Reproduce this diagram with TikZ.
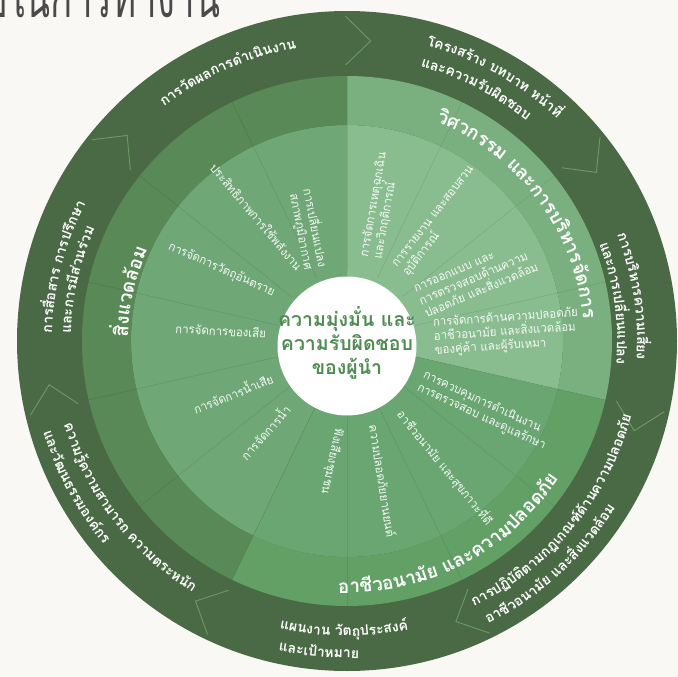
\documentclass[tikz,border=0pt]{standalone}
\usepackage{fontspec}
\setmainfont[Script=Thai]{Loma}
\newfontfamily\lomai[Script=Thai,FakeStretch=0.95]{Loma}
\definecolor{bgc}{HTML}{F9F8F5}
\definecolor{darkring}{HTML}{4A6A45}
\definecolor{envmid}{HTML}{598956}
\definecolor{envin}{HTML}{6FA777}
\definecolor{ohsmid}{HTML}{63A066}
\definecolor{ohsin}{HTML}{6AA672}
\definecolor{engmid}{HTML}{7AB080}
\definecolor{engin}{HTML}{89BC8F}
\definecolor{chev}{HTML}{6B9A66}
\definecolor{centxt}{HTML}{4F8C52}
\definecolor{titlec}{HTML}{4A4A4A}
\newcommand\otf{\bfseries\fontsize{14}{16}\selectfont}
\newcommand\mtf{\bfseries\fontsize{18.8}{22}\selectfont}
\newcommand\itf{\lomai\fontsize{12}{14}\selectfont}
\newcommand\ctf{\bfseries\fontsize{19.5}{24}\selectfont}
\tikzset{
  arcnode/.style={anchor=base, inner sep=0pt, outer sep=0pt, text=white},
  ringtxt/.style={font=\itf, text=white, text opacity=0.93, inner sep=0pt, outer sep=0pt},
  divline/.style={black, opacity=0.09, line width=0.6pt},
  chevron/.style={draw=chev, line width=0.9pt},
}
\newcounter{arcc}
\newdimen\arcaccd
\newdimen\arcwd
% measure chunks (outside the picture, where fonts work normally)
% #1 name, #2 direction (1 = clockwise, tops outward; -1 = counterclockwise, tops inward)
% #3 baseline radius (pt), #4 start angle, #5 font, #6 chunks
\newcommand\arcprep[6]{%
  \global\arcaccd=0pt\relax
  \gdef\arclist{}%
  \foreach \ch in {#6}{%
    \setbox0=\hbox{#5\ch}%
    \global\arcwd=\wd0\relax
    \pgfmathsetmacro\arcang{#4-(#2)*(\arcaccd+0.5*\arcwd)/(#3)*180/pi}%
    \ifx\arclist\empty\xdef\arclist{\arcang/\ch}\else\xdef\arclist{\arclist,\arcang/\ch}\fi
    \global\advance\arcaccd by \arcwd\relax
  }%
  \expandafter\global\expandafter\let\csname arcl@#1\endcsname\arclist
}
% place the measured chunks: #1 name, #2 direction, #3 radius, #4 font
\newcommand\arcplace[4]{%
  \expandafter\let\expandafter\arccur\csname arcl@#1\endcsname
  \foreach \aa/\cc in \arccur {%
    \pgfmathsetmacro\arcrot{\aa-(#2)*90}%
    \stepcounter{arcc}%
    \node[arcnode, font=#4, rotate=\arcrot] (arc\thearcc) at (\aa:#3pt) {\cc};
  }%
}
\newcommand\ringwedge[5]{%
  \fill[#5] (#1:#4pt) arc[start angle=#1, end angle=#2, radius=#4pt]
    -- (#2:#3pt) arc[start angle=#2, end angle=#1, radius=#3pt] -- cycle;}

\begin{document}
\arcprep{oa}{1}{297}{128}{\otf}{การ,วัด,ผล,การ,ดำ,เนิน,งาน}%
\arcprep{ob1}{1}{306}{75}{\otf}{โครง,สร้าง,\ บท,บาท,\ หน้า,ที่}%
\arcprep{ob2}{1}{284}{75}{\otf}{และ,ความ,รับ,ผิด,ชอบ}%
\arcprep{oc1}{1}{290}{21.5}{\otf}{การ,บริ,หาร,ความ,เสี่ยง}%
\arcprep{oc2}{1}{270}{21}{\otf}{และ,การ,เปลี่ยน,แปลง}%
\arcprep{od1}{-1}{294}{-64.4}{\otf}{การ,ปฏิ,บัติ,ตาม,กฎ,เกณฑ์,ด้าน,ความ,ปลอด,ภัย}%
\arcprep{od2}{-1}{316}{-63.5}{\otf}{อา,ชีว,อนา,มัย,\ และ,สิ่ง,แวด,ล้อม}%
\arcprep{oe1}{-1}{295}{-103.2}{\otf}{แผน,งาน,\ วัตถุ,ประ,สงค์}%
\arcprep{oe2}{-1}{317}{-102.5}{\otf}{และ,เป้า,หมาย}%
\arcprep{of1}{-1}{295}{196.5}{\otf}{ความ,รู้,ความ,สา,มารถ,\ ความ,ตระ,หนัก}%
\arcprep{of2}{-1}{317}{196.7}{\otf}{และ,วัฒ,น,ธรรม,องค์,กร}%
\arcprep{og1}{1}{295}{178.5}{\otf}{การ,สื่อ,สาร,\ การ,ปรึก,ษา}%
\arcprep{og2}{1}{276}{178.5}{\otf}{และ,การ,มี,ส่วน,ร่วม}%
\arcprep{ma}{1}{237}{68}{\mtf}{วิศ,วก,รรม,\ และ,การ,บริ,หาร,จัด,การ}%
\arcprep{mb}{-1}{252}{-92}{\mtf}{อา,ชีว,อ,นา,มัย,\ และ,ความ,ปลอด,ภัย}%
\arcprep{mc}{1}{219}{179}{\mtf}{สิ่ง,แวด,ล้อม}%
\begin{tikzpicture}
\useasboundingbox (0,0) rectangle (678pt,-677pt);
\clip (0,0) rectangle (678pt,-677pt);
\fill[bgc] (0,0) rectangle (678pt,-677pt);

% title (cut by the top edge)
\node[font=\fontsize{58}{60}\selectfont, text=titlec, anchor=base west, inner sep=0pt] (title) at (-16pt,-18pt) {\scalebox{0.63}[1]{บในการทำงาน}};

\begin{scope}[shift={(347pt,-341pt)}]
  % rings
  \fill[darkring] (0,0) circle (330pt);
  \ringwedge{90}{244.286}{60}{216}{envin}
  \ringwedge{90}{244.286}{216}{265}{envmid}
  \ringwedge{244.286}{347.143}{60}{216}{ohsin}
  \ringwedge{244.286}{347.143}{216}{265}{ohsmid}
  \ringwedge{-12.857}{90}{60}{216}{engin}
  \ringwedge{-12.857}{90}{216}{265}{engmid}
  % sub-sector dividers
  \foreach \k [evaluate=\k as \da using 90-25.7143*\k] in {0,...,13}
    \draw[divline] (\da:70pt) -- (\da:265pt);
  % chevrons in the outer ring
  \foreach \k [evaluate=\k as \ca using 85.5-51.4286*\k,
               evaluate=\k as \cb using 90.3-51.4286*\k] in {0,...,6}
    \draw[chevron] (\cb:325pt) -- (\ca:301pt) -- (\cb:276pt);

  % outer ring texts
  \arcplace{oa}{1}{297}{\otf}
  \arcplace{ob1}{1}{306}{\otf}
  \arcplace{ob2}{1}{284}{\otf}
  \arcplace{oc1}{1}{290}{\otf}
  \arcplace{oc2}{1}{270}{\otf}
  \arcplace{od1}{-1}{294}{\otf}
  \arcplace{od2}{-1}{316}{\otf}
  \arcplace{oe1}{-1}{295}{\otf}
  \arcplace{oe2}{-1}{317}{\otf}
  \arcplace{of1}{-1}{295}{\otf}
  \arcplace{of2}{-1}{317}{\otf}
  \arcplace{og1}{1}{295}{\otf}
  \arcplace{og2}{1}{276}{\otf}
  % middle ring labels
  \arcplace{ma}{1}{237}{\mtf}
  \arcplace{mb}{-1}{252}{\mtf}
  \arcplace{mc}{1}{219}{\mtf}
\end{scope}

% inner ring texts, right side (reading outward)
\node[ringtxt, align=left, anchor=west, rotate=80] (t1) at (371pt,-258pt) {การจัดการเหตุฉุกเฉิน\\และวิกฤติการณ์};
\node[ringtxt, align=left, anchor=west, rotate=52] (t2) at (401pt,-271pt) {การรายงาน และสอบสวน\\อุบัติการณ์};
\node[ringtxt, align=left, anchor=west, rotate=23] (t3) at (420pt,-302pt) {การออกแบบ และ\\การตรวจสอบด้านความ\\ปลอดภัย และสิ่งแวดล้อม};
\node[ringtxt, align=left, anchor=west, rotate=4] (t4) at (434pt,-337pt) {การจัดการด้านความปลอดภัย\\อาชีวอนามัย และสิ่งแวดล้อม\\ของคู่ค้า และผู้รับเหมา};
\node[ringtxt, align=left, anchor=west, rotate=-25] (t5) at (421pt,-381pt) {การควบคุมการดำเนินงาน\\การตรวจสอบ และดูแลรักษา};
\node[ringtxt, anchor=west, rotate=-51] (t6) at (400pt,-412pt) {อาชีวอนามัย และสุขภาวะที่ดี};
\node[ringtxt, anchor=west, rotate=-81] (t7) at (374pt,-425pt) {ความปลอดภัยยานยนต์};
\node[ringtxt, anchor=west, rotate=-102] (t8) at (339pt,-428pt) {ฟังเสียงชุมชน};
% inner ring texts, left side (reading inward)
\node[ringtxt, anchor=east, rotate=-3] (t9) at (266pt,-333pt) {การจัดการของเสีย};
\node[ringtxt, anchor=east, rotate=-24] (t10) at (274pt,-293pt) {การจัดการวัตถุอันตราย};
\node[ringtxt, anchor=east, rotate=-50] (t11) at (300pt,-268pt) {ประสิทธิภาพการใช้พลังงาน};
\node[ringtxt, anchor=east, align=right, rotate=-79] (t12) at (316pt,-268pt) {การเปลี่ยนแปลง\\สภาพภูมิอากาศ};
\node[ringtxt, anchor=east, rotate=22] (t13) at (272pt,-377pt) {การจัดการน้ำเสีย};
\node[ringtxt, anchor=east, rotate=48] (t14) at (287pt,-407pt) {การจัดการน้ำ};

% centre
\fill[white] (347pt,-346pt) circle (69.5pt);
\node[font=\ctf, text=centxt, align=center, inner sep=0pt] (centre) at (347pt,-343pt) {ความมุ่งมั่น และ\\ความรับผิดชอบ\\ของผู้นำ};
\end{tikzpicture}
\end{document}
